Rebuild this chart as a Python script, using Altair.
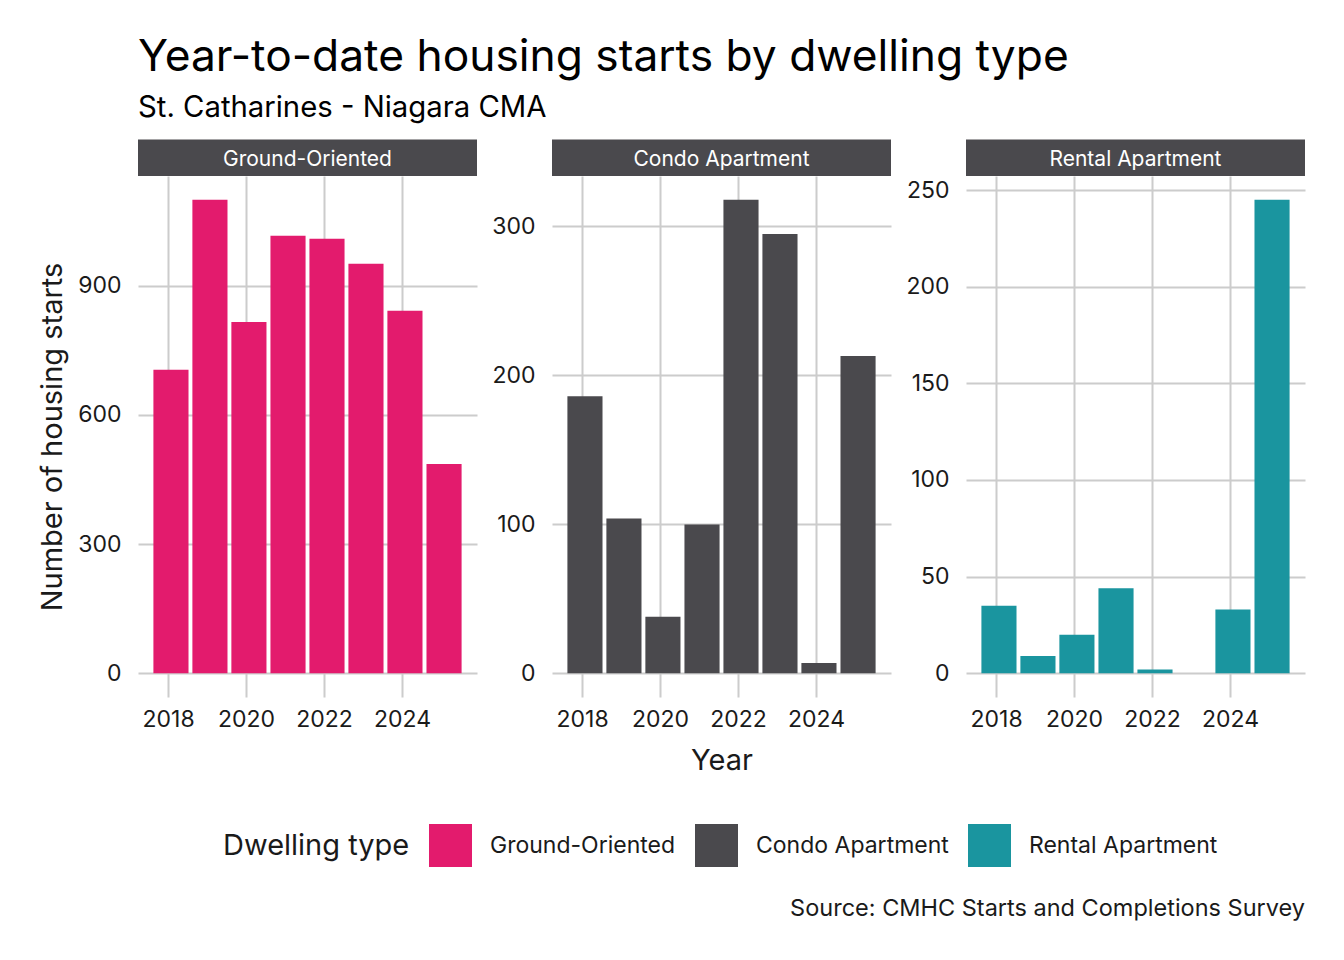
import altair as alt
import pandas as pd

# ---- data ----
dwelling_types = ["Ground-Oriented", "Condo Apartment", "Rental Apartment"]
type_colors = ["#E31B6D", "#4A494D", "#1A959F"]
period_dates = ["2018-01-28", "2019-01-28", "2020-01-28", "2021-01-28",
                "2022-01-28", "2023-01-28", "2024-01-28", "2025-01-28"]
ground_oriented = [705, 1100, 816, 1016, 1009, 951, 842, 486]
condo_apartment = [186, 104, 38, 100, 318, 295, 7, 213]
rental_apartment = [35, 9, 20, 44, 2, 0, 33, 245]
series_values = [ground_oriented, condo_apartment, rental_apartment]
x_tick_years = [2018, 2020, 2022, 2024]
y_ticks = [[0, 300, 600, 900], [0, 100, 200, 300], [0, 50, 100, 150, 200, 250]]

title_text = "Year-to-date housing starts by dwelling type"
subtitle_text = "St. Catharines - Niagara CMA"
caption_text = "Source: CMHC Starts and Completions Survey"
y_title = "Number of housing starts"
x_title = "Year"
legend_title = "Dwelling type"

# ---- layout / style ----
W, H = 339, 521
STRIP_H = 36.5
FONT = "Inter"
TXT = "#1a1a1a"
GRID = "#CCCCCC"
DAY_MS = 86400000
HALF = 0.45 * 365.25 * DAY_MS


def to_ms(s):
    return int(pd.Timestamp(s, tz="UTC").value // 10**6)


d_ms = [to_ms(d) for d in period_dates]
lo, hi = min(d_ms) - HALF, max(d_ms) + HALF
xpad = 0.05 * (hi - lo)
x_domain = [lo - xpad, hi + xpad]
x_tick_ms = [to_ms(f"{y}-01-01") for y in x_tick_years]

legend = alt.Legend(
    title=legend_title, orient="none", legendX=85, legendY=648,
    direction="horizontal", titleOrient="left", symbolType="square",
    symbolSize=1849, symbolStrokeWidth=0, symbolOpacity=1,
    labelFontSize=23, titleFontSize=29, labelOffset=18, columnPadding=19,
    titlePadding=19, labelFont=FONT, titleFont=FONT, labelColor=TXT,
    titleColor=TXT, titleFontWeight="normal", labelLimit=400, titleLimit=400,
)


def panel(i):
    vals = series_values[i]
    ymax = max(vals)
    df = pd.DataFrame({"date": period_dates, "starts": vals,
                       "type": dwelling_types[i]})
    base = alt.Chart(df).transform_calculate(
        t0=f"time(datum.date) - {HALF}",
        t1=f"time(datum.date) + {HALF}",
    )
    bars = base.mark_bar().encode(
        x=alt.X("t0:T",
                scale=alt.Scale(type="utc", domain=x_domain, nice=False),
                axis=alt.Axis(values=x_tick_ms, format="%Y", grid=True,
                              ticks=False, domain=False, labelPadding=11,
                              title=x_title if i == 1 else None,
                              titlePadding=15)),
        x2="t1",
        y=alt.Y("starts:Q",
                scale=alt.Scale(domain=[-0.05 * ymax, 1.05 * ymax],
                                nice=False, zero=False),
                axis=alt.Axis(values=y_ticks[i], grid=True, ticks=False,
                              domain=False, labelPadding=17,
                              title=y_title if i == 0 else None,
                              titlePadding=10)),
        y2=alt.datum(0),
        color=alt.Color("type:N",
                        scale=alt.Scale(domain=dwelling_types,
                                        range=type_colors),
                        legend=legend),
    )
    strip_df = pd.DataFrame({"label": [dwelling_types[i]]})
    strip = alt.Chart(strip_df).mark_rect(color="#4A494D").encode(
        x=alt.value(0), x2=alt.value(W),
        y=alt.value(-STRIP_H), y2=alt.value(0),
    )
    strip_text = alt.Chart(strip_df).mark_text(
        color="white", font=FONT, fontSize=21, baseline="middle",
        align="center", dy=2,
    ).encode(x=alt.value(W / 2), y=alt.value(-STRIP_H / 2), text="label:N")
    layers = [bars, strip, strip_text]
    if i == 2:
        cap_df = pd.DataFrame({"caption": [caption_text]})
        cap = alt.Chart(cap_df).mark_text(
            color=TXT, font=FONT, fontSize=23.5, align="right",
            baseline="middle",
        ).encode(x=alt.value(W), y=alt.value(733), text="caption:N")
        layers.append(cap)
    return alt.layer(*layers).properties(width=W, height=H)


chart = alt.hconcat(
    panel(0), panel(1), panel(2), spacing=75, bounds="flush"
).properties(
    title=alt.TitleParams(
        title_text, subtitle=subtitle_text, anchor="start", frame="group",
        font=FONT, fontSize=44.3, fontWeight="normal", color="#000000",
        subtitleFont=FONT, subtitleFontSize=29.3, subtitleColor="#000000",
        subtitlePadding=14, offset=16,
    ),
    padding={"left": 30, "top": 27, "right": 30, "bottom": 20},
).configure_view(stroke=None).configure_axis(
    labelFont=FONT, titleFont=FONT, labelFontSize=23, titleFontSize=29,
    labelColor=TXT, titleColor=TXT, titleFontWeight="normal",
    gridColor=GRID, gridWidth=2,
)

chart.save("out.html", embed_options={"renderer": "svg", "actions": False})
